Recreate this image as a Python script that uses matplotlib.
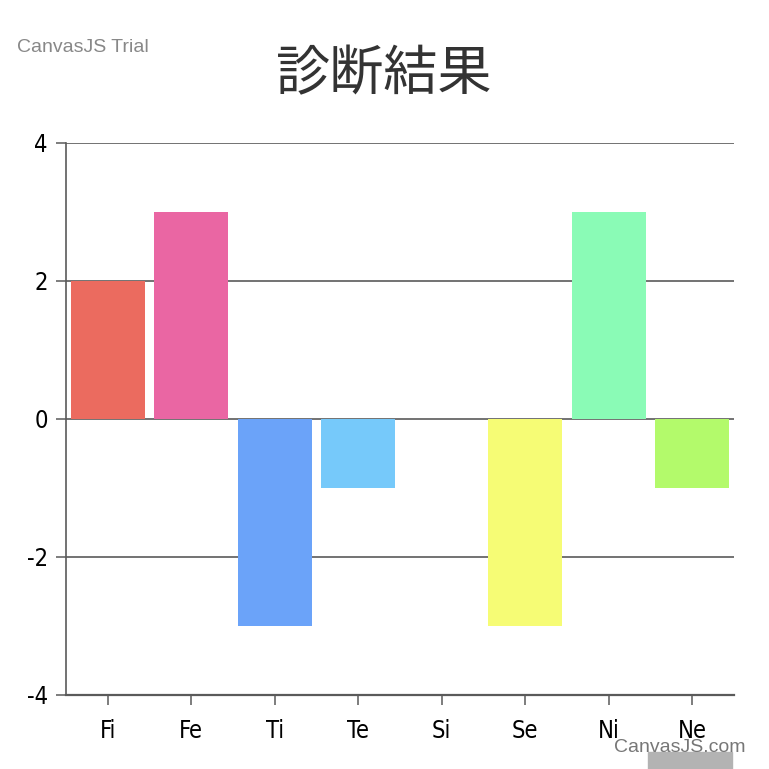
import matplotlib
matplotlib.use("Agg")
import matplotlib.pyplot as plt
from matplotlib.patches import Rectangle

categories = ["Fi", "Fe", "Ti", "Te", "Si", "Se", "Ni", "Ne"]
values = [2, 3, -3, -1, 0, -3, 3, -1]
colors = ["#EB6B5F", "#EA66A3", "#6BA3F9", "#76C9FA", "#C0C0C0", "#F6FC75", "#8AFBB6", "#B3FA6B"]
yticks = [-4, -2, 0, 2, 4]
title = "診断結果"

plt.rcParams['font.family'] = ['DejaVu Sans']
fig = plt.figure(figsize=(7.69, 7.69), dpi=100)
ax = fig.add_axes([66/769, 1-695/769, (734-66)/769, (695-143)/769])

ax.set_axisbelow(True)
ax.bar(range(len(categories)), values, width=0.886, color=colors, zorder=3)

ax.set_xlim(-0.5, len(categories)-0.5)
ax.set_ylim(-4, 4)
ax.set_yticks(yticks)
ax.set_yticklabels([str(v) for v in yticks])
ax.set_xticks(range(len(categories)))
ax.set_xticklabels(categories)
ax.yaxis.grid(True, color="#5a5a5a", linewidth=1.2)
for s in ["top", "right"]:
    ax.spines[s].set_visible(False)
ax.spines["left"].set_color("#5a5a5a")
ax.spines["bottom"].set_color("#5a5a5a")
ax.spines["left"].set_linewidth(1.2)
ax.spines["bottom"].set_linewidth(1.6)
ax.tick_params(axis="y", length=7, width=1.1, color="#5a5a5a", labelsize=17, pad=6)
ax.tick_params(axis="x", length=7, width=1.1, color="#5a5a5a", labelsize=17, pad=10)
for lab in ax.get_xticklabels() + ax.get_yticklabels():
    lab.set_fontfamily(["DejaVu Sans"])
    lab.set_fontstretch("condensed")
    lab.set_color("#000000")

fig.text(0.5, 1-75/769, title, ha="center", va="center", fontsize=39,
         color="#333333", family=["Noto Sans CJK JP", "DejaVu Sans"])
fig.text(17/769, 1-47/769, "CanvasJS Trial", ha="left", va="center", fontsize=14,
         color="#888888", family=["Liberation Sans", "DejaVu Sans"])
fig.patches.append(Rectangle((648/769, 0), (732-648)/769, (769-752)/769,
                             transform=fig.transFigure, color="#B3B3B3", zorder=1))
fig.text(680/769, 1-747/769, "CanvasJS.com", ha="center", va="center", fontsize=14,
         color="#777777", family=["Liberation Sans", "DejaVu Sans"], zorder=5)

fig.savefig("out.png", dpi=100)
